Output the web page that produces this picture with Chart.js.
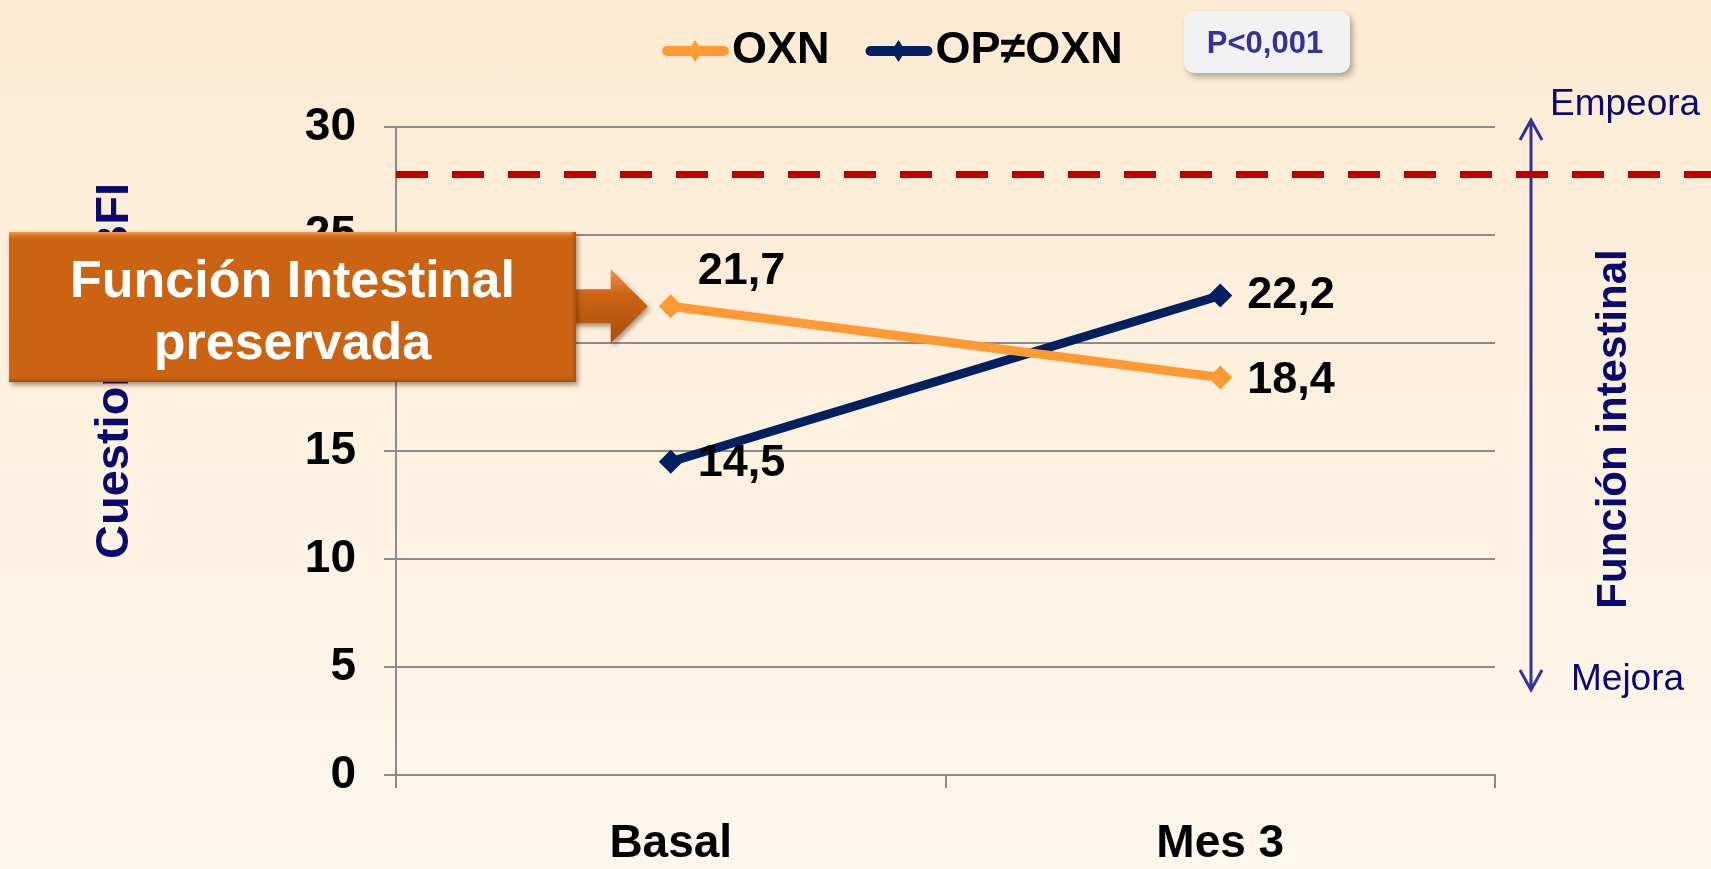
<!DOCTYPE html>
<html lang="es">
<head>
<meta charset="utf-8">
<title>Función intestinal - Cuestionario BFI</title>
<script src="https://cdn.jsdelivr.net/npm/chart.js@4.4.1/dist/chart.umd.min.js"></script>
<style>
  html, body { margin: 0; padding: 0; }
  body {
    width: 1711px; height: 869px; overflow: hidden;
    background: linear-gradient(to bottom, #fdebd3 0%, #fef7ed 100%);
  }
  #chart { display: block; }
</style>
</head>
<body>
<canvas id="chart" width="1711" height="869"></canvas>
<script>
// BFI score, OXN vs OP≠OXN, basal and month 3

const CATEGORIES = ['Basal', 'Mes 3'];
const OXN = [21.7, 18.4];
const OP_OXN = [14.5, 22.2];
const SERIES_NAMES = ['OXN', 'OP≠OXN'];
const Y_TICKS = [0, 5, 10, 15, 20, 25, 30];
const THRESHOLD = 27.8;
const P_TEXT = 'P<0,001';
const Y_TITLE = 'Cuestionario BFI';
const CALLOUT_LINES = ['Función Intestinal', 'preservada'];
const SIDE_TITLE = 'Función intestinal';
const SIDE_TOP = 'Empeora';
const SIDE_BOTTOM = 'Mejora';

const COLORS = {
    oxn: '#ff9933',
    op: '#002060',
    grid: '#8c8c8c',
    navy: '#0a0a6e',
    arrow: '#333399',
    threshold: '#c00000',
    callout: '#cc6312'
};

const FONT = "'Liberation Sans', Arial, sans-serif";

// data label offsets from each point [dx, dy], per dataset
const LABEL_OFFSETS = [
    [[27, -35], [27, 3]],
    [[27, 2], [27, 0]]
];

const fmt = v => v.toFixed(1).replace('.', ',');

function diamond(ctx, x, y, rx, ry, color) {
    ctx.beginPath();
    ctx.moveTo(x, y - ry);
    ctx.lineTo(x + rx, y);
    ctx.lineTo(x, y + ry);
    ctx.lineTo(x - rx, y);
    ctx.closePath();
    ctx.fillStyle = color;
    ctx.fill();
}

function roundRect(ctx, x, y, w, h, r) {
    ctx.beginPath();
    ctx.moveTo(x + r, y);
    ctx.arcTo(x + w, y, x + w, y + h, r);
    ctx.arcTo(x + w, y + h, x, y + h, r);
    ctx.arcTo(x, y + h, x, y, r);
    ctx.arcTo(x, y, x + w, y, r);
    ctx.closePath();
}

function drawCallout(ctx, tipX, tipY) {
    const x0 = 9, x1 = 576, y0 = 232, y1 = 382;
    ctx.save();
    ctx.shadowColor = 'rgba(60,30,0,0.45)';
    ctx.shadowBlur = 5;
    ctx.shadowOffsetX = 2;
    ctx.shadowOffsetY = 3;

    // arrow
    const grad = ctx.createLinearGradient(0, tipY - 37, 0, tipY + 37);
    grad.addColorStop(0, '#f0914a');
    grad.addColorStop(0.35, COLORS.callout);
    grad.addColorStop(1, '#a94f0c');
    ctx.beginPath();
    ctx.moveTo(x1 - 6, tipY - 17);
    ctx.lineTo(tipX - 37, tipY - 17);
    ctx.lineTo(tipX - 37, tipY - 37);
    ctx.lineTo(tipX, tipY);
    ctx.lineTo(tipX - 37, tipY + 37);
    ctx.lineTo(tipX - 37, tipY + 17);
    ctx.lineTo(x1 - 6, tipY + 17);
    ctx.closePath();
    ctx.fillStyle = grad;
    ctx.fill();

    // box
    ctx.fillStyle = COLORS.callout;
    ctx.fillRect(x0, y0, x1 - x0, y1 - y0);
    ctx.restore();

    // bevel edges
    let g = ctx.createLinearGradient(0, y0, 0, y0 + 8);
    g.addColorStop(0, '#f59b4e');
    g.addColorStop(1, 'rgba(204,99,18,0)');
    ctx.fillStyle = g;
    ctx.fillRect(x0, y0, x1 - x0, 8);
    g = ctx.createLinearGradient(0, y1 - 6, 0, y1);
    g.addColorStop(0, 'rgba(204,99,18,0)');
    g.addColorStop(1, '#9a460c');
    ctx.fillStyle = g;
    ctx.fillRect(x0, y1 - 6, x1 - x0, 6);
    g = ctx.createLinearGradient(x1 - 6, 0, x1, 0);
    g.addColorStop(0, 'rgba(204,99,18,0)');
    g.addColorStop(1, '#a94f0c');
    ctx.fillStyle = g;
    ctx.fillRect(x1 - 6, y0, 6, y1 - y0);

    ctx.fillStyle = '#ffffff';
    ctx.font = `bold 52px ${FONT}`;
    ctx.textAlign = 'center';
    ctx.textBaseline = 'alphabetic';
    const cx = (x0 + x1) / 2;
    ctx.fillText(CALLOUT_LINES[0], cx, 297);
    ctx.fillText(CALLOUT_LINES[1], cx, 359);
}

const decorPlugin = {
    id: 'decor',
    afterDraw(chart) {
        const ctx = chart.ctx;
        const area = chart.chartArea;
        const y = chart.scales.y;

        ctx.save();

        // y axis title (partly hidden behind the callout)
        ctx.save();
        ctx.translate(115, 371);
        ctx.rotate(-Math.PI / 2);
        ctx.fillStyle = COLORS.navy;
        ctx.font = `bold 47px ${FONT}`;
        ctx.textAlign = 'center';
        ctx.textBaseline = 'middle';
        ctx.fillText(Y_TITLE, 0, 0);
        ctx.restore();

        // side arrow Empeora / Mejora
        const ax = 1531, aTop = 120, aBot = 690;
        ctx.strokeStyle = COLORS.arrow;
        ctx.lineWidth = 3;
        ctx.beginPath();
        ctx.moveTo(ax, aTop); ctx.lineTo(ax, aBot);
        ctx.moveTo(ax - 11, aTop + 20); ctx.lineTo(ax, aTop); ctx.lineTo(ax + 11, aTop + 20);
        ctx.moveTo(ax - 11, aBot - 20); ctx.lineTo(ax, aBot); ctx.lineTo(ax + 11, aBot - 20);
        ctx.stroke();

        ctx.fillStyle = COLORS.navy;
        ctx.font = `37px ${FONT}`;
        ctx.textAlign = 'left';
        ctx.textBaseline = 'alphabetic';
        ctx.fillText(SIDE_TOP, 1550, 115);
        ctx.fillText(SIDE_BOTTOM, 1571, 690);

        ctx.save();
        ctx.translate(1614, 429);
        ctx.rotate(-Math.PI / 2);
        ctx.font = `bold 42px ${FONT}`;
        ctx.textAlign = 'center';
        ctx.textBaseline = 'middle';
        ctx.fillText(SIDE_TITLE, 0, 0);
        ctx.restore();

        // threshold dashed line
        const ty = y.getPixelForValue(THRESHOLD);
        ctx.strokeStyle = COLORS.threshold;
        ctx.lineWidth = 7;
        ctx.setLineDash([32, 24]);
        ctx.beginPath();
        ctx.moveTo(area.left, ty);
        ctx.lineTo(chart.width, ty);
        ctx.stroke();
        ctx.setLineDash([]);

        // legend
        let lx = 662;
        const ly = 51;
        ctx.font = `bold 45px ${FONT}`;
        ctx.textBaseline = 'middle';
        chart.data.datasets.forEach(ds => {
            ctx.strokeStyle = ds.borderColor;
            ctx.lineWidth = 10;
            ctx.lineCap = 'round';
            ctx.beginPath();
            ctx.moveTo(lx + 5, ly); ctx.lineTo(lx + 62, ly);
            ctx.stroke();
            diamond(ctx, lx + 33, ly, 7, 11, ds.borderColor);
            ctx.fillStyle = '#000';
            ctx.fillText(ds.label, lx + 70, ly);
            lx += 70 + ctx.measureText(ds.label).width + 36;
        });
        ctx.lineCap = 'butt';

        // p value box
        ctx.save();
        ctx.shadowColor = 'rgba(0,0,0,0.3)';
        ctx.shadowBlur = 6;
        ctx.shadowOffsetX = 3;
        ctx.shadowOffsetY = 4;
        roundRect(ctx, 1184, 11, 166, 62, 10);
        ctx.fillStyle = '#f2f2f2';
        ctx.fill();
        ctx.restore();
        ctx.fillStyle = COLORS.arrow;
        ctx.font = `bold 31px ${FONT}`;
        ctx.textAlign = 'center';
        ctx.fillText(P_TEXT, 1265, 44);

        // data labels
        ctx.fillStyle = '#000';
        ctx.font = `bold 45px ${FONT}`;
        ctx.textAlign = 'left';
        ctx.textBaseline = 'middle';
        chart.data.datasets.forEach((ds, di) => {
            chart.getDatasetMeta(di).data.forEach((pt, i) => {
                const [dx, dy] = LABEL_OFFSETS[di][i];
                ctx.fillText(fmt(ds.data[i]), pt.x + dx, pt.y + dy);
            });
        });

        // callout pointing at OXN basal point
        const p0 = chart.getDatasetMeta(0).data[0];
        drawCallout(ctx, p0.x - 23, p0.y);

        ctx.restore();
    }
};

const tickFont = { family: FONT, size: 46, weight: 'bold' };

new Chart(document.getElementById('chart'), {
    type: 'line',
    data: {
        labels: CATEGORIES,
        datasets: [{
            label: SERIES_NAMES[0],
            data: OXN,
            borderColor: COLORS.oxn,
            backgroundColor: COLORS.oxn,
            pointBackgroundColor: COLORS.oxn,
            borderWidth: 9,
            pointStyle: 'rectRot',
            pointRadius: 12,
            pointBorderWidth: 0,
            tension: 0
        }, {
            label: SERIES_NAMES[1],
            data: OP_OXN,
            borderColor: COLORS.op,
            backgroundColor: COLORS.op,
            pointBackgroundColor: COLORS.op,
            borderWidth: 9,
            pointStyle: 'rectRot',
            pointRadius: 12,
            pointBorderWidth: 0,
            tension: 0
        }]
    },
    options: {
        responsive: false,
        animation: false,
        layout: { padding: { top: 127, right: 216, bottom: 0, left: 0 } },
        plugins: { legend: { display: false }, tooltip: { enabled: false } },
        scales: {
            x: {
                offset: true,
                grid: { offset: true, drawOnChartArea: false, tickLength: 13, color: COLORS.grid, lineWidth: 2 },
                border: { display: true, color: COLORS.grid, width: 2 },
                ticks: { color: '#000', font: tickFont, padding: 29 },
                afterFit: s => { s.height = 94; }
            },
            y: {
                min: 0, max: 30,
                afterBuildTicks: s => { s.ticks = Y_TICKS.map(v => ({ value: v })); },
                grid: { color: COLORS.grid, lineWidth: 2, tickLength: 12 },
                border: { display: true, color: COLORS.grid, width: 2 },
                ticks: { color: '#000', font: tickFont, padding: 28 },
                afterFit: s => { s.width = 396; }
            }
        }
    },
    plugins: [decorPlugin]
});
</script>
</body>
</html>
